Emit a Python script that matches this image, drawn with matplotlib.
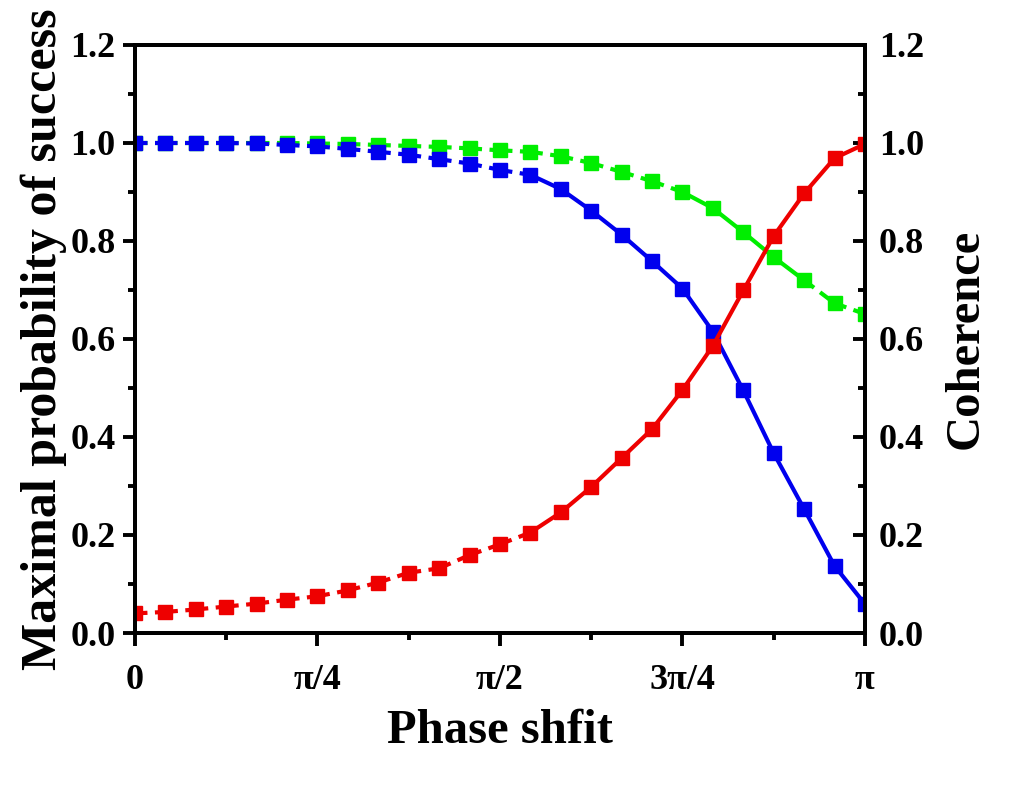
import numpy as np
import matplotlib
matplotlib.use("Agg")
import matplotlib.pyplot as plt
from matplotlib.ticker import MultipleLocator, FixedLocator, FormatStrFormatter

plt.rcParams['font.family'] = ['Liberation Serif', 'DejaVu Serif']
plt.rcParams['font.weight'] = 'bold'

# phase shift, 25 points from 0 to pi
phase = np.linspace(0, np.pi, 25)

prob_blue = [1.000, 1.000, 1.000, 1.000, 0.999, 0.996, 0.993, 0.988, 0.982, 0.976,
             0.967, 0.958, 0.945, 0.935, 0.906, 0.862, 0.813, 0.759, 0.703, 0.615,
             0.495, 0.367, 0.253, 0.137, 0.059]
prob_green = [1.000, 1.000, 1.000, 1.000, 1.000, 1.000, 0.999, 0.998, 0.996, 0.994,
              0.992, 0.989, 0.985, 0.982, 0.973, 0.959, 0.941, 0.922, 0.900, 0.867,
              0.818, 0.767, 0.720, 0.673, 0.651]
coherence_red = [0.040, 0.043, 0.048, 0.054, 0.060, 0.068, 0.075, 0.087, 0.103, 0.123,
                 0.132, 0.159, 0.181, 0.205, 0.246, 0.298, 0.357, 0.416, 0.496, 0.586,
                 0.699, 0.810, 0.897, 0.969, 0.998]

xtick_vals = [0, np.pi / 4, np.pi / 2, 3 * np.pi / 4, np.pi]
xtick_labels = ['0', 'π/4', 'π/2', '3π/4', 'π']

# which segments are drawn dashed
blue_dash = [i < 13 for i in range(24)]
green_dash = [(i < 18) or (i >= 22) for i in range(24)]
red_dash = [i < 13 for i in range(24)]


def draw(ax, x, y, color, dashed, z):
    x = np.asarray(x)
    y = np.asarray(y)
    for i, d in enumerate(dashed):
        ax.plot(x[i:i + 2], y[i:i + 2], color=color, lw=3.0,
                linestyle=(0, (3.0, 1.8)) if d else '-', zorder=z,
                solid_capstyle='butt', dash_capstyle='butt')
    ax.plot(x, y, 's', color=color, ms=9.5, mec=color, zorder=z + 0.5)


fig = plt.figure(figsize=(10.14, 7.88), dpi=100)
ax = fig.add_axes([0.1331, 0.1967, 0.7199, 0.7462])
ax2 = ax.twinx()

draw(ax, phase, prob_green, '#00ee00', green_dash, 2)
draw(ax, phase, prob_blue, '#0000ee', blue_dash, 3)
draw(ax2, phase, coherence_red, '#ee0000', red_dash, 2)

for a in (ax, ax2):
    a.set_ylim(0, 1.2)
    a.set_xlim(0, np.pi)
    a.yaxis.set_major_locator(MultipleLocator(0.2))
    a.yaxis.set_minor_locator(MultipleLocator(0.1))
    a.yaxis.set_major_formatter(FormatStrFormatter('%.1f'))
    for s in a.spines.values():
        s.set_linewidth(2.8)

ax.xaxis.set_major_locator(FixedLocator(xtick_vals))
ax.xaxis.set_minor_locator(MultipleLocator(np.pi / 8))
ax.set_xticklabels(xtick_labels)

ax.tick_params(axis='both', which='major', direction='out', length=9, width=2.8,
               labelsize=26, pad=5)
ax.tick_params(axis='both', which='minor', direction='out', length=5, width=2.8)
ax.tick_params(axis='x', which='both', top=False)
ax.tick_params(axis='x', which='major', pad=13)
ax2.tick_params(axis='y', which='major', direction='in', length=9, width=2.8,
                labelsize=26, pad=10)
ax2.tick_params(axis='y', which='minor', direction='in', length=5, width=2.8)

ax.set_xlabel('Phase shfit', fontsize=35, fontweight='bold', labelpad=9)
ax.set_ylabel('Maximal probability of success', fontsize=36, fontweight='bold', labelpad=2)
ax2.set_ylabel('Coherence', fontsize=35, fontweight='bold', labelpad=14)

fig.savefig('out.png', dpi=100)
